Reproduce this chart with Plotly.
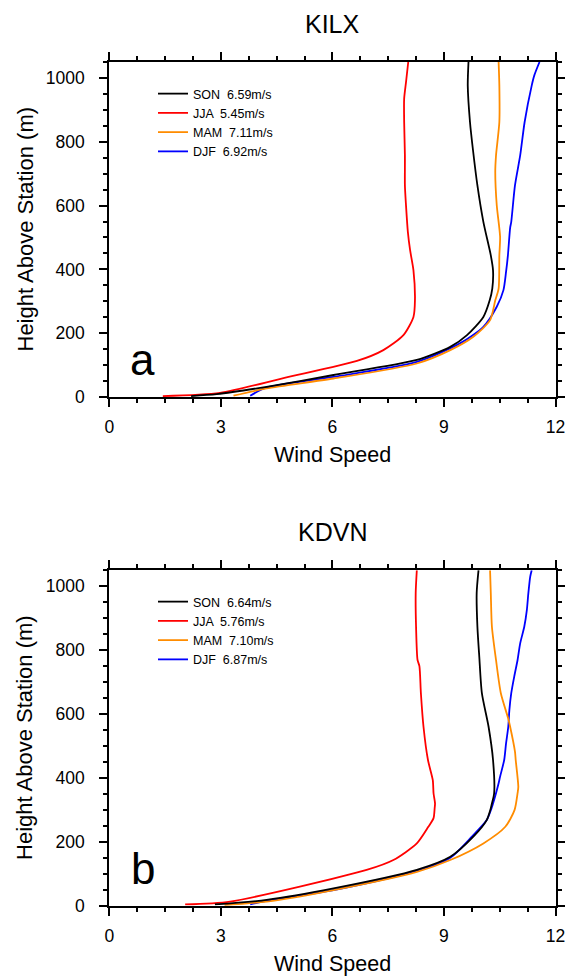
import plotly.graph_objects as go

# ---------------- KILX wind speed profiles ----------------
kilx_son_h = [3, 9, 32, 69, 116, 157, 194, 251, 303, 340, 397, 444, 549, 663, 775, 862, 976, 1050]
kilx_son_ws = [2.2, 2.89, 4.23, 6.03, 8.27, 9.17, 9.62, 10.06, 10.23, 10.30, 10.32, 10.26, 10.06, 9.90, 9.78, 9.70, 9.64, 9.66]

kilx_jja_h = [3, 13, 60, 113, 147, 194, 251, 303, 397, 460, 517, 600, 663, 757, 862, 935, 987, 1050]
kilx_jja_ws = [1.44, 2.98, 4.71, 6.66, 7.37, 7.91, 8.18, 8.22, 8.18, 8.09, 8.03, 7.98, 7.95, 7.95, 7.93, 7.93, 7.98, 8.04]

kilx_mam_h = [4, 27, 58, 105, 147, 189, 241, 303, 340, 444, 502, 601, 705, 757, 862, 976, 1050]
kilx_mam_ws = [3.34, 4.23, 6.03, 8.27, 9.17, 9.79, 10.24, 10.38, 10.47, 10.49, 10.51, 10.42, 10.38, 10.40, 10.49, 10.49, 10.47]

kilx_djf_h = [4, 30, 63, 110, 168, 220, 283, 335, 392, 444, 530, 549, 663, 757, 862, 976, 1008, 1050]
kilx_djf_ws = [3.79, 4.23, 6.03, 8.27, 9.43, 10.06, 10.42, 10.60, 10.67, 10.72, 10.78, 10.81, 10.91, 11.05, 11.17, 11.36, 11.43, 11.57]

# ---------------- KDVN wind speed profiles ----------------
kdvn_son_h = [4, 18, 54, 112, 153, 216, 268, 305, 320, 352, 456, 560, 665, 780, 873, 978, 1050]
kdvn_son_ws = [2.84, 4.23, 6.03, 8.27, 9.17, 9.79, 10.15, 10.26, 10.29, 10.35, 10.32, 10.20, 10.02, 9.95, 9.90, 9.88, 9.93]

kdvn_jja_h = [4, 13, 112, 143, 195, 247, 274, 305, 320, 352, 393, 456, 560, 665, 750, 769, 873, 978, 1050]
kdvn_jja_ws = [2.04, 3.25, 6.92, 7.64, 8.27, 8.58, 8.72, 8.75, 8.76, 8.72, 8.70, 8.57, 8.45, 8.38, 8.34, 8.29, 8.25, 8.24, 8.27]

kdvn_mam_h = [2, 13, 49, 106, 143, 195, 247, 300, 352, 372, 456, 482, 560, 585, 665, 769, 873, 978, 1050]
kdvn_mam_ws = [3.1, 4.23, 6.03, 8.27, 9.17, 10.06, 10.65, 10.90, 10.98, 11.00, 10.93, 10.91, 10.78, 10.73, 10.53, 10.40, 10.29, 10.26, 10.24]

kdvn_djf_h = [4, 15, 49, 108, 150, 216, 268, 305, 352, 383, 404, 456, 508, 560, 613, 665, 717, 769, 821, 873, 926, 978, 1030, 1050]
kdvn_djf_ws = [3.79, 4.23, 6.03, 8.27, 9.17, 9.75, 10.15, 10.28, 10.40, 10.47, 10.51, 10.62, 10.67, 10.73, 10.76, 10.81, 10.89, 10.98, 11.05, 11.16, 11.23, 11.27, 11.32, 11.36]

# legend labels (season + mean speed)
kilx_labels = {"SON": "SON  6.59m/s", "JJA": "JJA  5.45m/s", "MAM": "MAM  7.11m/s", "DJF": "DJF  6.92m/s"}
kdvn_labels = {"SON": "SON  6.64m/s", "JJA": "JJA  5.76m/s", "MAM": "MAM  7.10m/s", "DJF": "DJF  6.87m/s"}

stations = ["KILX", "KDVN"]
panel_letters = ["a", "b"]

colors = {"SON": "#000000", "JJA": "#ff0000", "MAM": "#ff8c00", "DJF": "#0000ff"}
rank = {"SON": 1, "JJA": 2, "MAM": 3, "DJF": 4}

W, H = 565, 976
FONT = "Liberation Sans, Arial, Helvetica, sans-serif"


def px_x(p):
    return p / W


def px_y(p):
    return 1 - p / H


fig = go.Figure()

panels = [
    dict(suffix="", legend="legend", labels=kilx_labels,
         data={"DJF": (kilx_djf_ws, kilx_djf_h), "MAM": (kilx_mam_ws, kilx_mam_h),
               "JJA": (kilx_jja_ws, kilx_jja_h), "SON": (kilx_son_ws, kilx_son_h)}),
    dict(suffix="2", legend="legend2", labels=kdvn_labels,
         data={"DJF": (kdvn_djf_ws, kdvn_djf_h), "MAM": (kdvn_mam_ws, kdvn_mam_h),
               "JJA": (kdvn_jja_ws, kdvn_jja_h), "SON": (kdvn_son_ws, kdvn_son_h)}),
]

for p in panels:
    for season, (ws, hh) in p["data"].items():
        fig.add_trace(go.Scatter(
            x=ws, y=hh, mode="lines", name=p["labels"][season],
            line=dict(color=colors[season], width=1.8, shape="spline", smoothing=0.7),
            xaxis="x" + p["suffix"], yaxis="y" + p["suffix"],
            legend=p["legend"], legendrank=rank[season],
        ))

# plot areas in pixels (left, right, top, bottom)
areas = [(109.3, 555.5, 62, 397), (109.3, 555.5, 570.2, 905.7)]

axis_common = dict(
    showline=True, linecolor="black", linewidth=2, mirror="allticks",
    ticks="outside", ticklen=8, tickwidth=2, tickcolor="black",
    showgrid=False, zeroline=False, automargin=False,
    ticklabeloverflow="allow",
    tickfont=dict(family=FONT, size=17.5, color="black"),
)

layout_axes = {}
annotations = []
for i, (l, r, t, b) in enumerate(areas):
    s = "" if i == 0 else str(i + 1)
    layout_axes["xaxis" + s] = dict(
        axis_common, domain=[px_x(l), px_x(r)], range=[0, 12],
        tickmode="linear", tick0=0, dtick=3, ticklabelstandoff=5,
        minor=dict(ticks="outside", ticklen=4, tickwidth=1.5, tickcolor="black", dtick=0.75, tick0=0),
        anchor="y" + s,
    )
    layout_axes["yaxis" + s] = dict(
        axis_common, domain=[px_y(b), px_y(t)], range=[0, 1050],
        tickmode="linear", tick0=0, dtick=200, ticklabelstandoff=11,
        minor=dict(ticks="outside", ticklen=4, tickwidth=1.5, tickcolor="black", dtick=50, tick0=0),
        anchor="x" + s,
    )
    cx = (l + r) / 2
    cy = (t + b) / 2
    annotations += [
        dict(text=stations[i], x=px_x(cx), y=px_y(t - 38), xref="paper", yref="paper",
             showarrow=False, font=dict(family=FONT, size=25, color="black"),
             xanchor="center", yanchor="middle"),
        dict(text="Wind Speed", x=px_x(cx), y=px_y(b + 58), xref="paper", yref="paper",
             showarrow=False, font=dict(family=FONT, size=21.5, color="black"),
             xanchor="center", yanchor="middle"),
        dict(text="Height Above Station (m)", x=px_x(25), y=px_y(cy), xref="paper", yref="paper",
             showarrow=False, textangle=-90, font=dict(family=FONT, size=22, color="black"),
             xanchor="center", yanchor="middle"),
        dict(text=panel_letters[i], x=0.9, y=118, xref="x" + s, yref="y" + s,
             showarrow=False, font=dict(family=FONT, size=44, color="black"),
             xanchor="center", yanchor="middle"),
    ]

legend_common = dict(
    xanchor="left", yanchor="top", bgcolor="rgba(0,0,0,0)", borderwidth=0,
    font=dict(family=FONT, size=12.5, color="black"), traceorder="normal",
)

fig.update_layout(
    template="none",
    width=W, height=H,
    margin=dict(l=0, r=0, t=0, b=0, autoexpand=False),
    paper_bgcolor="white", plot_bgcolor="white",
    showlegend=True,
    legend=dict(legend_common, x=px_x(153), y=px_y(79)),
    legend2=dict(legend_common, x=px_x(153), y=px_y(587)),
    annotations=annotations,
    **layout_axes,
)

fig.write_html("out.html")
